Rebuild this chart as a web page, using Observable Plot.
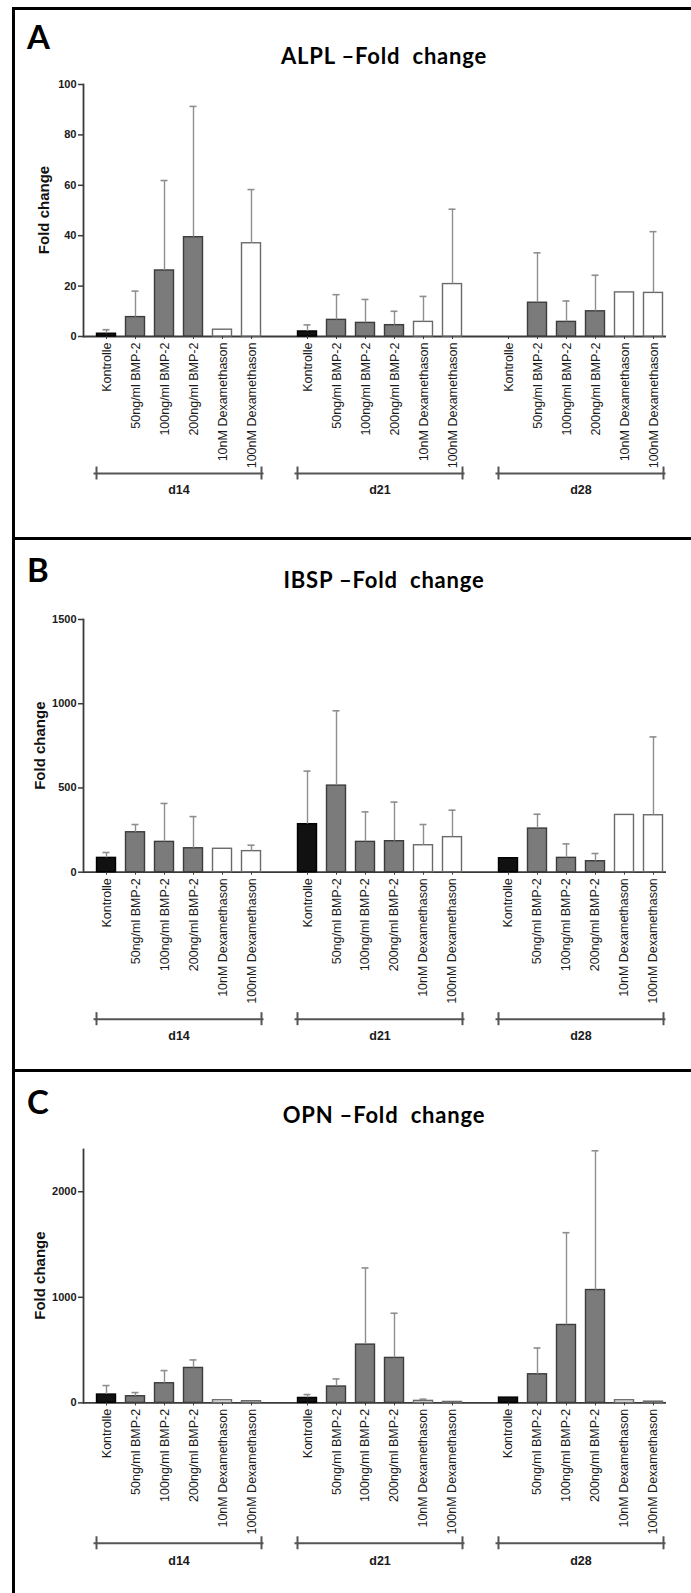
<!DOCTYPE html>
<html>
<head>
<meta charset="utf-8">
<script src="https://cdn.jsdelivr.net/npm/d3@7"></script>
<script src="https://cdn.jsdelivr.net/npm/@observablehq/plot@0.6"></script>
<style>
  html, body { margin: 0; padding: 0; background: #fff; }
  #page { position: relative; width: 691px; height: 1593px; overflow: hidden; background: #fff; }
  #page > svg.chart { position: absolute; left: 0; }
  #deco { position: absolute; left: 0; top: 0; }
</style>
</head>
<body>
<div id="page"></div>
<script>
// Treatments within each day and the three time points
const treatments = ["Kontrolle", "50ng/ml BMP-2", "100ng/ml BMP-2", "200ng/ml BMP-2", "10nM Dexamethason", "100nM Dexamethason"];
const kinds = ["control", "bmp", "bmp", "bmp", "dex", "dex"];
const days = ["d14", "d21", "d28"];

// ALPL fold change: mean and upper error end (mean + SD), one row per day
const alplMean = [
  [1.1, 7.7, 26.2, 39.4, 2.7, 37.0],
  [2.0, 6.6, 5.4, 4.5, 5.8, 20.8],
  [null, 13.4, 5.8, 10.0, 17.5, 17.3]
];
const alplUpper = [
  [2.7, 18.0, 61.9, 91.3, null, 58.3],
  [4.6, 16.6, 14.7, 10.0, 15.9, 50.5],
  [null, 33.2, 14.1, 24.3, null, 41.6]
];

// IBSP fold change
const ibspMean = [
  [85, 237, 180, 142, 139, 125],
  [285, 514, 180, 184, 160, 208],
  [83, 259, 85, 65, 340, 338]
];
const ibspUpper = [
  [117, 283, 408, 330, null, 160],
  [600, 958, 358, 416, 283, 368],
  [null, 344, 168, 111, null, 803]
];

// OPN fold change
const opnMean = [
  [79, 63, 186, 331, 25, 16],
  [47, 155, 552, 426, 19, 9],
  [50, 271, 738, 1069, 25, 12]
];
const opnUpper = [
  [164, 98, 306, 407, null, null],
  [79, 227, 1278, 849, 35, null],
  [null, 520, 1612, 2388, null, null]
];

const alplTicks = [0, 20, 40, 60, 80, 100];
const ibspTicks = [0, 500, 1000, 1500];
const opnTicks = [0, 1000, 2000];

// Bar styling per treatment kind
const barStyle = {
  control: {fill: "#111111", stroke: "#000000"},
  bmp: {fill: "#7b7b7b", stroke: "#3c3c3c"},
  dex: {fill: "#ffffff", stroke: "#6a6a6a"}
};
const axisColor = "#3a3a3a";
const errColor = "#8e8e8e";
const sansFont = "'Liberation Sans', Arial, sans-serif";

const panels = [
  {letter: "A", title: "ALPL \u2013Fold  change", mean: alplMean, upper: alplUpper, yMax: 100, ticks: alplTicks,
   top: 84, bottom: 336, bracket: 137, dayPad: 148.5, letterY: 49, titleY: 63.5, ylabX: 49},
  {letter: "B", title: "IBSP \u2013Fold  change", mean: ibspMean, upper: ibspUpper, yMax: 1500, ticks: ibspTicks,
   top: 619.3, bottom: 872, bracket: 147, dayPad: 158.5, letterY: 582, titleY: 588, ylabX: 45},
  {letter: "C", title: "OPN \u2013Fold  change", mean: opnMean, upper: opnUpper, yMax: 2400, ticks: opnTicks,
   top: 1148.9, bottom: 1402.3, bracket: 140.4, dayPad: 153.5, letterY: 1114, titleY: 1123, ylabX: 45}
];

const page = document.getElementById("page");
const marginTop = 12, marginBottom = 185;

function rowsFor(p) {
  const rows = [];
  days.forEach((day, di) => treatments.forEach((t, ti) => {
    rows.push({day, treatment: t, kind: kinds[ti], mean: p.mean[di][ti], upper: p.upper[di][ti]});
  }));
  return rows;
}

for (const p of panels) {
  const rows = rowsFor(p);
  const withErr = rows.filter(r => r.upper != null && r.mean != null);
  const plotH = p.bottom - p.top;
  const chart = Plot.plot({
    width: 691,
    height: marginTop + plotH + marginBottom,
    marginTop, marginBottom,
    marginLeft: 82.5,
    marginRight: 15.5,
    style: {fontFamily: sansFont, background: "transparent", overflow: "visible", color: "#1a1a1a"},
    fx: {domain: days, paddingInner: 10 / 201, paddingOuter: 0},
    x: {domain: treatments, paddingInner: 1 / 3, paddingOuter: 0.35},
    y: {domain: [0, p.yMax]},
    marks: [
      // y axis line on the first day only
      Plot.frame({anchor: "left", facetAnchor: "left", stroke: axisColor, strokeWidth: 1.8}),
      // continuous x baseline
      Plot.ruleY(days.slice(0, 2), {fx: d => d, y: 0, insetRight: -10, stroke: axisColor, strokeWidth: 1.8}),
      Plot.ruleY(days.slice(2), {fx: d => d, y: 0, insetRight: 10, stroke: axisColor, strokeWidth: 1.8}),
      // bars
      ...["control", "bmp", "dex"].map(k => Plot.barY(rows.filter(r => r.kind === k && r.mean != null), {
        fx: "day", x: "treatment", y: "mean", fill: barStyle[k].fill, stroke: barStyle[k].stroke, strokeWidth: 1.4
      })),
      // upper error bars
      Plot.ruleX(withErr, {fx: "day", x: "treatment", y1: "mean", y2: "upper", stroke: errColor, strokeWidth: 1.4}),
      Plot.tickY(withErr, {fx: "day", x: "treatment", y: "upper", insetLeft: 6, insetRight: 6, stroke: errColor, strokeWidth: 1.6}),
      // axes
      Plot.axisY({ticks: p.ticks, tickFormat: d => String(d), tickSize: 5, tickPadding: 2, fontSize: 11, fontWeight: "bold",
                  stroke: axisColor, strokeWidth: 1.5, label: null}),
      Plot.axisX({tickRotate: -90, tickSize: 3, tickPadding: 3, fontSize: 12.5, stroke: axisColor, label: null}),
      Plot.axisFx({anchor: "bottom", tickSize: 0, tickPadding: p.dayPad, fontSize: 12.5, fontWeight: "bold", label: null}),
      // day brackets beneath the treatment labels
      Plot.ruleY(days, {fx: d => d, y: 0, dy: p.bracket, insetLeft: 10.5, insetRight: 10.5, stroke: "#555", strokeWidth: 2}),
      Plot.ruleX(days, {fx: d => d, x: () => treatments[0], y1: 0, y2: 0, dx: -10, dy: p.bracket,
                        insetTop: -6.5, insetBottom: -6.5, stroke: "#555", strokeWidth: 2}),
      Plot.ruleX(days, {fx: d => d, x: () => treatments[treatments.length - 1], y1: 0, y2: 0, dx: 10, dy: p.bracket,
                        insetTop: -6.5, insetBottom: -6.5, stroke: "#555", strokeWidth: 2})
    ]
  });
  chart.classList.add("chart");
  chart.style.top = (p.top - marginTop) + "px";
  page.appendChild(chart);
}

// Panel frame, letters, titles and y-axis captions
const NS = "http://www.w3.org/2000/svg";
const deco = document.createElementNS(NS, "svg");
deco.setAttribute("id", "deco");
deco.setAttribute("width", 691);
deco.setAttribute("height", 1593);
function add(tag, attrs, text) {
  const el = document.createElementNS(NS, tag);
  for (const [k, v] of Object.entries(attrs)) el.setAttribute(k, v);
  if (text != null) el.textContent = text;
  deco.appendChild(el);
  return el;
}
add("rect", {x: 12, y: 7, width: 679, height: 3, fill: "#000"});
add("rect", {x: 12, y: 7, width: 3, height: 1586, fill: "#000"});
add("rect", {x: 12, y: 537, width: 679, height: 3, fill: "#000"});
add("rect", {x: 12, y: 1069, width: 679, height: 3, fill: "#000"});
for (const p of panels) {
  add("text", {x: 27, y: p.letterY, "font-family": "Lato, sans-serif", "font-weight": 700, "font-size": 33, fill: "#000"}, p.letter);
  add("text", {x: 384, y: p.titleY, "text-anchor": "middle", "font-family": "Lato, sans-serif", "font-weight": 700,
               "font-size": 22, "letter-spacing": 0.8, style: "white-space:pre", fill: "#000"}, p.title);
  add("text", {transform: `translate(${p.ylabX},${(p.top + p.bottom) / 2}) rotate(-90)`, "text-anchor": "middle",
               "font-family": sansFont, "font-weight": 700, "font-size": 15, fill: "#111"}, "Fold change");
}
page.appendChild(deco);
</script>
</body>
</html>
